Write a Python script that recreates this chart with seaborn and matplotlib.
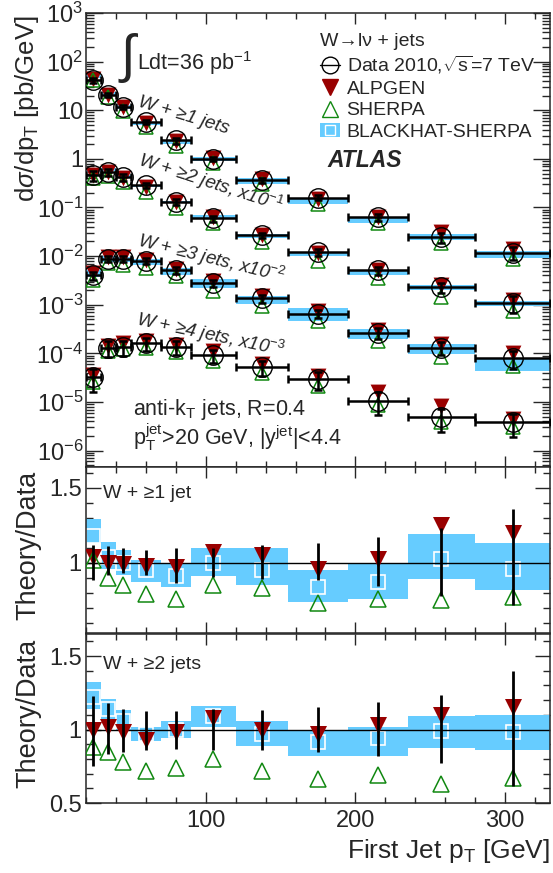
import numpy as np
import matplotlib
matplotlib.use('Agg')
import matplotlib.pyplot as plt
import seaborn as sns
from matplotlib.lines import Line2D
from matplotlib.patches import Patch
from matplotlib.ticker import MultipleLocator, LogLocator, FixedLocator, FuncFormatter, NullFormatter

# binning in first jet pT [GeV]
bin_lo = np.array([20, 30, 40, 50, 70, 90, 120, 155, 195, 235, 280])
bin_hi = np.array([30, 40, 50, 70, 90, 120, 155, 195, 235, 280, 330])
bin_x = np.array([25, 35, 45, 60, 80, 105, 137.5, 175, 215, 257.5, 305])

# measured cross sections [pb/GeV] (before display scaling)
data_1j = np.array([41.7, 20.4, 11.6, 5.7, 2.4, 0.98, 0.36, 0.16, 0.063, 0.0245, 0.0114])
data_2j = np.array([4.6, 5.3, 4.2, 2.9, 1.3, 0.6, 0.27, 0.12, 0.051, 0.023, 0.011])
data_3j = np.array([0.40, 0.89, 0.89, 0.81, 0.51, 0.275, 0.135, 0.066, 0.026, 0.013, 0.008])
data_4j = np.array([0.032, 0.13, 0.135, 0.16, 0.135, 0.091, 0.052, 0.029, 0.0107, 0.0048, 0.0038])
scales = [1, 1e-1, 1e-2, 1e-3]

# theory / data, W + >=1 jet
r1_alp = np.array([1.04, 1.0, 0.99, 0.98, 0.97, 1.07, 1.05, 0.955, 1.025, 1.25, 1.2])
r1_she = np.array([1.02, 0.90, 0.85, 0.79, 0.76, 0.85, 0.83, 0.73, 0.76, 0.75, 0.77])
r1_bh = np.array([1.18, 1.04, 1.0, 0.95, 0.91, 1.0, 0.95, 0.84, 0.87, 1.025, 0.96])
r1_bh_lo = np.array([1.13, 0.96, 0.92, 0.87, 0.84, 0.91, 0.85, 0.74, 0.76, 0.89, 0.82])
r1_bh_hi = np.array([1.29, 1.14, 1.085, 1.02, 1.0, 1.10, 1.10, 0.95, 1.0, 1.19, 1.13])
r1_err_lo = np.array([0.883, 0.917, 0.928, 0.917, 0.861, 0.906, 0.89, 0.883, 0.843, 0.776, 0.717])
r1_err_hi = np.array([1.119, 1.112, 1.096, 1.085, 1.096, 1.096, 1.119, 1.135, 1.170, 1.231, 1.359])

# theory / data, W + >=2 jets
r2_alp = np.array([1.0, 1.02, 0.98, 0.93, 0.98, 1.08, 1.0, 0.97, 1.03, 1.10, 1.15])
r2_she = np.array([0.88, 0.85, 0.78, 0.72, 0.74, 0.80, 0.72, 0.66, 0.69, 0.63, 0.67])
r2_bh = np.array([1.22, 1.14, 1.06, 0.97, 1.0, 1.09, 0.97, 0.915, 0.94, 0.99, 0.984])
r2_bh_lo = np.array([1.14, 1.06, 0.995, 0.92, 0.94, 1.02, 0.885, 0.82, 0.82, 0.876, 0.86])
r2_bh_hi = np.array([1.32, 1.21, 1.13, 1.02, 1.06, 1.16, 1.06, 1.0, 1.02, 1.09, 1.10])
r2_err_lo = np.array([0.755, 0.835, 0.846, 0.862, 0.869, 0.858, 0.862, 0.846, 0.817, 0.771, 0.617])
r2_err_hi = np.array([1.229, 1.179, 1.138, 1.126, 1.126, 1.138, 1.133, 1.151, 1.19, 1.236, 1.397])

# theory / data, W + >=3 jets (only in top panel)
r3_alp = np.array([1.1, 1.1, 1.1, 1.05, 1.05, 1.1, 1.1, 1.15, 1.15, 1.2, 1.25])
r3_she = np.array([0.8, 0.8, 0.75, 0.7, 0.75, 0.7, 0.7, 0.7, 0.7, 0.65, 0.7])
r3_bh_lo = np.array([0.95, 0.85, 0.85, 0.8, 0.8, 0.8, 0.75, 0.7, 0.75, 0.75, 0.55])
r3_bh_hi = np.array([1.3, 1.15, 1.1, 1.1, 1.1, 1.25, 1.1, 1.3, 1.2, 1.2, 1.0])
r3_err = np.array([0.2, 0.15, 0.15, 0.15, 0.15, 0.15, 0.18, 0.2, 0.25, 0.3, 0.4])

# theory / data, W + >=4 jets (no BlackHat prediction)
r4_alp = np.array([1.1, 1.1, 1.2, 1.1, 1.1, 1.2, 1.15, 1.2, 1.5, 1.7, 1.2])
r4_she = np.array([0.8, 0.85, 0.9, 0.8, 0.8, 0.75, 0.75, 0.75, 0.8, 0.8, 0.8])
r4_err = np.array([0.5, 0.35, 0.35, 0.3, 0.3, 0.3, 0.35, 0.4, 0.5, 0.5, 0.5])

RED = '#990000'
GREEN = '#118811'
BLUE = '#66ccff'

sns.set_style('ticks')
plt.rcParams['font.family'] = ['Liberation Sans', 'DejaVu Sans']
plt.rcParams['mathtext.fontset'] = 'custom'
plt.rcParams['mathtext.rm'] = 'Liberation Sans'
plt.rcParams['mathtext.it'] = 'Liberation Sans:italic'
plt.rcParams['mathtext.bf'] = 'Liberation Sans:bold'
plt.rcParams['axes.linewidth'] = 1.1

fig = plt.figure(figsize=(5.53, 8.73), dpi=100)
L, W = 86 / 553, 464 / 553
ax = fig.add_axes([L, 406 / 873, W, 454 / 873])
ax_r1 = fig.add_axes([L, 240 / 873, W, 166 / 873])
ax_r2 = fig.add_axes([L, 70 / 873, W, 169 / 873])

xerr = [bin_x - bin_lo, bin_hi - bin_x]

# ---- top panel
series = [
    (data_1j, r1_alp, r1_she, r1_bh_lo, r1_bh_hi, data_1j * (1 - r1_err_lo), data_1j * (r1_err_hi - 1)),
    (data_2j, r2_alp, r2_she, r2_bh_lo, r2_bh_hi, data_2j * (1 - r2_err_lo), data_2j * (r2_err_hi - 1)),
    (data_3j, r3_alp, r3_she, r3_bh_lo, r3_bh_hi, data_3j * r3_err, data_3j * r3_err),
    (data_4j, r4_alp, r4_she, None, None, data_4j * r4_err, data_4j * r4_err),
]
for (d, alp, she, bh_lo, bh_hi, e_dn, e_up), s in zip(series, scales):
    y = d * s
    if bh_lo is not None:
        ax.bar(bin_lo, y * (bh_hi - bh_lo), bottom=y * bh_lo, width=bin_hi - bin_lo,
               align='edge', color=BLUE, lw=0, zorder=1)
    sns.scatterplot(x=bin_x, y=y * alp, marker='v', s=130, color=RED, edgecolor=RED,
                    linewidth=0, ax=ax, zorder=3, legend=False)
    ax.plot(bin_x, y * she, ls='none', marker='^', ms=10, mfc='none', mec=GREEN, mew=1.1, zorder=4)
    ax.errorbar(bin_x, y, xerr=xerr, yerr=[e_dn * s, e_up * s], fmt='none', ecolor='k',
                elinewidth=1.8, capsize=3, capthick=1.8, zorder=5)
    ax.plot(bin_x, y, ls='none', marker='o', ms=14, mfc='none', mec='k', mew=1.0, zorder=6)

ax.set_yscale('log')
ax.set_ylim(4.6e-7, 1e3)
ax.set_xlim(20, 330)
ax.yaxis.set_major_locator(FixedLocator(10.0 ** np.arange(-6, 4)))
ax.yaxis.set_minor_locator(LogLocator(base=10, subs=np.arange(2, 10), numticks=20))
ax.yaxis.set_minor_formatter(NullFormatter())


def log_fmt(v, pos):
    e = int(round(np.log10(v)))
    if e == 0:
        return '1'
    if e == 1:
        return '10'
    return '$10^{%d}$' % e


ax.yaxis.set_major_formatter(FuncFormatter(log_fmt))
ax.set_ylabel(r'd$\sigma$/dp$_{\rm T}$ [pb/GeV]', fontsize=18.5)
ax.yaxis.set_label_coords(-0.097, 0.79)
ax.tick_params(axis='y', which='major', length=12, labelsize=17, pad=2)
ax.tick_params(axis='y', which='minor', length=6)

ax.text(0.068, 0.9, r'$\int$', transform=ax.transAxes, fontsize=38, va='center', ha='left')
ax.text(0.11, 0.89, r'Ldt=36 pb$^{-1}$', transform=ax.transAxes, fontsize=15.5, va='center')
ax.text(0.211, 0.775, 'W + ≥1 jets', transform=ax.transAxes, fontsize=13.5, style='italic',
        rotation=-17, ha='center', va='center', rotation_mode='anchor')
ax.text(0.269, 0.625, r'W + ≥2 jets, x10$^{-1}$', transform=ax.transAxes, fontsize=13.5,
        style='italic', rotation=-18, ha='center', va='center', rotation_mode='anchor')
ax.text(0.269, 0.458, r'W + ≥3 jets, x10$^{-2}$', transform=ax.transAxes, fontsize=13.5,
        style='italic', rotation=-14, ha='center', va='center', rotation_mode='anchor')
ax.text(0.269, 0.29, r'W + ≥4 jets, x10$^{-3}$', transform=ax.transAxes, fontsize=13.5,
        style='italic', rotation=-12, ha='center', va='center', rotation_mode='anchor')
ax.text(0.101, 0.126, r'anti-k$_{\rm T}$ jets, R=0.4', transform=ax.transAxes, fontsize=15.5, va='center')
ax.text(0.101, 0.066, r'p$_{\rm T}^{\rm jet}$>20 GeV, |y$^{\rm jet}$|<4.4', transform=ax.transAxes,
        fontsize=15.5, va='center')

handles = [
    Line2D([], [], color='k', lw=1, marker='o', mfc='none', mec='k', ms=12),
    Line2D([], [], ls='none', marker='v', color=RED, ms=12),
    Line2D([], [], ls='none', marker='^', mfc='none', mec=GREEN, ms=12),
    (Patch(facecolor=BLUE, edgecolor='none'),
     Line2D([], [], ls='none', marker='s', mfc='none', mec='white', ms=7)),
]
labels = [r'Data 2010,$\sqrt{\rm s}$=7 TeV', 'ALPGEN', 'SHERPA', 'BLACKHAT-SHERPA']
leg = ax.legend(handles, labels, loc='upper left', bbox_to_anchor=(0.505, 0.955), frameon=False,
                fontsize=14, title='W→lν + jets', title_fontsize=14, alignment='left',
                handlelength=1.0, handletextpad=0.35, labelspacing=0.2, borderpad=0, borderaxespad=0)
ax.text(0.52, 0.676, 'ATLAS', transform=ax.transAxes, fontsize=16.5, weight='bold', style='italic',
        va='center')

# ---- ratio panels
ratio_sets = [
    (ax_r1, r1_alp, r1_she, r1_bh, r1_bh_lo, r1_bh_hi, r1_err_lo, r1_err_hi, 'W + ≥1 jet', (0.53, 1.64), 0.843),
    (ax_r2, r2_alp, r2_she, r2_bh, r2_bh_lo, r2_bh_hi, r2_err_lo, r2_err_hi, 'W + ≥2 jets', (0.5, 1.65), 0.822),
]
for a, alp, she, bh, bh_lo, bh_hi, e_lo, e_hi, lab, ylim, ty in ratio_sets:
    a.bar(bin_lo, bh_hi - bh_lo, bottom=bh_lo, width=bin_hi - bin_lo, align='edge',
          color=BLUE, lw=0, zorder=1)
    a.plot(bin_x, bh, ls='none', marker='s', ms=10, mfc='none', mec='white', mew=1.2, zorder=2)
    a.axhline(1, color='k', lw=1, zorder=2)
    sns.scatterplot(x=bin_x, y=alp, marker='v', s=150, color=RED, edgecolor=RED,
                    linewidth=0, ax=a, zorder=3, legend=False)
    a.plot(bin_x, she, ls='none', marker='^', ms=11, mfc='none', mec=GREEN, mew=1.1, zorder=4)
    a.vlines(bin_x, e_lo, e_hi, color='k', lw=2, zorder=5)
    a.set_xlim(20, 330)
    a.set_ylim(*ylim)
    a.yaxis.set_major_locator(MultipleLocator(0.5))
    a.yaxis.set_minor_locator(MultipleLocator(0.1))
    a.yaxis.set_major_formatter(FuncFormatter(lambda v, p: '%g' % round(v, 2)))
    a.tick_params(axis='y', which='major', length=11, labelsize=17, pad=3)
    a.tick_params(axis='y', which='minor', length=5)
    a.set_ylabel('Theory/Data', fontsize=19.5)
    a.yaxis.set_label_coords(-0.097, 0.53)
    a.text(0.037, ty, lab, transform=a.transAxes, fontsize=14, va='center')

for a in (ax, ax_r1, ax_r2):
    a.xaxis.set_major_locator(MultipleLocator(100))
    a.xaxis.set_minor_locator(MultipleLocator(20))
    a.tick_params(axis='both', which='both', direction='in', top=True, right=True, width=1)
    a.tick_params(axis='x', which='major', length=8, labelsize=17, pad=5)
    a.tick_params(axis='x', which='minor', length=4)
    a.set_xlabel('')
    for sp in a.spines.values():
        sp.set_linewidth(1.1)

ax.tick_params(axis='x', labelbottom=False)
ax_r1.tick_params(axis='x', labelbottom=False)
ax_r2.set_xlabel(r'First Jet p$_{\rm T}$ [GeV]', fontsize=19, ha='right')
ax_r2.xaxis.set_label_coords(1.0, -0.2)

fig.savefig('out.png', dpi=100)
